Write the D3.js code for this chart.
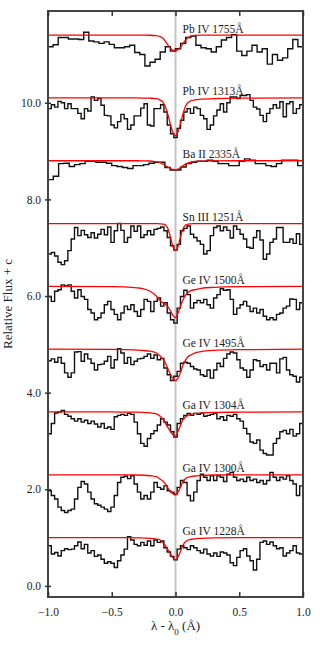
<!DOCTYPE html>
<html>
<head>
<meta charset="utf-8">
<script src="https://cdn.jsdelivr.net/npm/d3@7"></script>
<style>
  body { margin: 0; background: #fff; }
  text { font-family: "Liberation Serif", "DejaVu Serif", serif; fill: #222; }
</style>
</head>
<body>
<div id="chart"></div>
<script>
// line labels, bottom panel first
var lineNames = ["Ga IV 1228Å", "Ga IV 1300Å", "Ga IV 1304Å", "Ge IV 1495Å", "Ge IV 1500Å",
                 "Sn III 1251Å", "Ba II 2335Å", "Pb IV 1313Å", "Pb IV 1755Å"];
// vertical offset c added to each normalised spectrum
var offsets = [0, 1.3, 2.6, 3.9, 5.2, 6.5, 7.8, 9.1, 10.4];

var xTicks = [-1, -0.5, 0, 0.5, 1];
var yTicks = [0, 2, 4, 6, 8, 10];

// observed normalised flux, one value per pixel bin, spanning -1..1 A
var fluxGa1228 = [0.83,0.66,0.69,0.62,0.73,0.77,0.75,0.76,0.83,0.91,0.77,0.86,0.68,0.73,0.61,0.64,0.55,0.47,0.50,0.47,
  0.38,0.52,0.64,0.76,1.02,0.95,0.86,0.83,0.90,0.84,0.93,0.83,0.95,0.90,0.93,0.79,0.70,0.61,0.54,0.76,
  0.83,0.79,0.75,0.83,0.79,0.73,0.68,0.76,0.66,0.62,0.68,0.61,0.70,0.68,0.64,0.48,0.42,0.59,0.73,0.77,
  0.62,0.52,0.33,0.55,0.90,0.93,0.86,0.91,0.83,0.77,0.79,0.62,0.68,0.73,0.83,0.68,0.66];
var fluxGa1300 = [0.67,0.57,0.50,0.33,0.26,0.22,0.26,0.29,0.50,0.74,0.86,0.81,0.64,0.50,0.40,0.37,0.33,0.29,0.24,0.33,
  0.57,0.84,0.95,0.97,0.92,0.98,0.81,0.64,0.50,0.57,0.50,0.64,0.84,0.74,0.70,0.77,0.67,0.64,0.60,0.74,
  0.88,0.84,0.57,0.46,0.64,0.88,1.01,0.95,0.88,0.98,0.88,0.98,0.95,0.86,1.01,1.05,0.95,0.88,0.91,0.86,
  0.95,0.88,0.91,0.84,0.88,0.81,0.88,1.05,0.95,0.88,0.95,0.91,0.98,0.88,0.81,0.57,0.77];
var fluxGa1304 = [0.55,0.76,0.98,1.00,1.03,0.95,0.91,0.86,0.81,0.86,0.79,0.83,0.76,0.81,0.75,0.69,0.76,0.66,0.69,0.64,
  0.90,0.93,0.95,0.93,0.97,0.95,0.79,0.55,0.35,0.29,0.45,0.55,0.61,0.73,0.86,0.79,0.73,0.59,0.48,0.76,
  0.86,0.93,0.97,0.93,0.97,0.95,0.97,0.91,0.93,0.95,0.97,0.86,0.90,0.83,0.93,0.91,0.95,0.86,0.81,0.66,
  0.55,0.38,0.35,0.42,0.21,0.14,0.11,0.11,0.35,0.45,0.59,0.62,0.55,0.64,0.50,0.55,0.76];
var fluxGe1495 = [0.76,0.80,0.73,0.83,0.71,0.51,0.42,0.51,0.94,0.95,0.75,0.90,0.80,0.71,0.57,0.68,0.69,0.75,0.85,0.61,
  0.78,1.01,0.92,0.71,0.83,0.68,0.75,0.80,0.81,0.85,0.90,0.81,0.88,0.78,0.81,0.61,0.47,0.35,0.44,0.54,
  0.71,0.73,0.71,0.64,0.59,0.57,0.47,0.44,0.57,0.40,0.57,0.71,0.64,0.81,0.90,0.94,0.92,0.78,0.61,0.57,
  0.42,0.57,0.78,0.76,0.64,0.68,0.57,0.71,0.71,0.51,0.80,0.83,0.57,0.47,0.44,0.32,0.42];
var fluxGe1500 = [0.79,0.69,0.90,0.93,1.03,1.01,1.03,0.90,0.76,0.93,0.79,0.73,0.52,0.45,0.31,0.35,0.45,0.62,0.69,0.52,
  0.42,0.31,0.45,0.59,0.52,0.62,0.48,0.38,0.52,0.73,0.69,0.48,0.69,0.76,0.59,0.66,0.45,0.31,0.24,0.55,
  0.79,0.92,0.83,0.55,0.66,0.71,0.66,0.73,0.62,0.55,0.76,0.83,0.95,0.92,0.93,0.73,0.42,0.55,0.62,0.69,
  0.59,0.48,0.55,0.45,0.52,0.38,0.31,0.35,0.31,0.42,0.45,0.55,0.59,0.74,0.73,0.52,0.66];
var fluxSn1251 = [0.37,0.40,0.33,0.20,0.15,0.23,0.44,0.68,0.92,0.75,0.86,0.77,0.71,0.81,0.70,0.78,0.88,0.77,0.93,0.61,
  0.85,1.00,0.86,0.61,0.71,0.95,0.84,0.95,0.71,0.77,0.85,0.77,0.88,0.90,0.93,0.85,0.71,0.54,0.45,0.57,
  0.85,0.90,0.95,0.78,0.71,0.64,0.57,0.37,0.44,0.75,0.92,0.95,0.85,0.93,0.86,0.70,0.95,0.88,0.78,0.68,
  0.51,0.49,0.71,0.85,0.66,0.26,0.37,0.61,0.68,0.92,0.92,0.61,0.61,0.68,0.59,0.79,0.57];
var fluxBa2335 = [0.61,0.68,0.94,0.95,0.88,0.92,0.94,0.99,0.99,0.97,0.97,0.95,0.90,0.88,0.86,0.84,0.90,0.90,0.92,0.95,
  0.97,0.97,0.86,0.81,0.81,0.87,0.94,0.97,0.99,0.99,1.01,0.99,0.94,0.94,0.90,0.90,0.99,1.04,1.01,0.94,
  0.94,0.90,0.88,0.94,1.01,1.01,1.01,0.90];
var fluxPb1313 = [0.78,0.86,0.81,0.93,0.90,0.78,0.88,0.78,0.78,0.68,0.57,0.78,0.73,1.02,0.95,0.99,0.85,0.64,0.63,0.44,
  0.38,0.51,0.66,0.57,0.35,0.44,0.63,0.63,0.79,0.88,0.44,0.42,0.78,0.78,0.86,0.71,0.44,0.26,0.18,0.37,
  0.54,0.71,0.78,0.68,0.81,0.78,0.64,0.57,0.35,0.44,0.63,0.75,0.88,0.71,0.90,1.02,1.02,0.99,1.05,1.05,
  1.07,0.95,0.81,0.77,0.64,0.51,0.68,0.78,0.86,0.79,0.92,0.61,0.88,0.92,0.68,0.78,0.86];
var fluxPb1755 = [0.76,0.80,0.95,0.95,0.92,0.92,0.91,1.06,0.88,0.86,0.83,0.86,0.81,0.74,0.74,0.76,0.79,0.64,0.60,0.36,
  0.44,0.50,0.65,0.76,0.67,0.72,0.83,0.95,0.98,0.79,0.74,0.72,0.65,0.76,0.90,0.95,1.01,0.67,0.58,0.67,
  0.79,0.65,0.72,0.40,0.60,0.48,0.53,0.72,0.91,0.76];

// fitted absorption profiles (red), read on a common wavelength grid
var modelX = [-1,-0.5,-0.4,-0.3,-0.25,-0.2,-0.15,-0.12,-0.1,-0.08,-0.06,-0.04,-0.02,0,
              0.02,0.04,0.06,0.08,0.1,0.12,0.15,0.2,0.3,0.5,1];
var modelGa1228 = [1,1,0.998,0.995,0.99,0.985,0.97,0.95,0.9,0.84,0.75,0.66,0.58,0.54,0.6,0.72,0.85,0.92,0.95,0.96,0.975,0.985,0.995,0.998,1];
var modelGa1300 = [1,1,0.998,0.995,0.99,0.98,0.96,0.91,0.87,0.81,0.73,0.66,0.61,0.58,0.64,0.75,0.87,0.92,0.95,0.96,0.975,0.985,0.995,0.998,1];
var modelGa1304 = [1,1,0.998,0.995,0.99,0.98,0.96,0.91,0.86,0.77,0.68,0.6,0.53,0.5,0.6,0.73,0.85,0.9,0.93,0.95,0.97,0.98,0.99,0.995,1];
var modelGe1495 = [1,0.995,0.99,0.98,0.97,0.96,0.92,0.86,0.8,0.72,0.6,0.48,0.39,0.35,0.4,0.53,0.68,0.78,0.85,0.88,0.92,0.95,0.975,0.99,1];
var modelGe1500 = [1,0.995,0.99,0.97,0.95,0.9,0.8,0.7,0.66,0.63,0.58,0.5,0.4,0.35,0.45,0.6,0.73,0.82,0.88,0.91,0.93,0.96,0.98,0.995,1];
var modelSn1251 = [1,1,1,1,1,1,0.998,0.995,0.99,0.975,0.9,0.72,0.52,0.44,0.53,0.73,0.9,0.97,0.99,0.995,0.998,1,1,1,1];
var modelBa2335 = [1,1,1,1,0.998,0.995,0.975,0.96,0.935,0.9,0.87,0.84,0.82,0.81,0.83,0.86,0.9,0.93,0.955,0.97,0.985,0.992,0.997,1,1];
var modelPb1313 = [1,1,1,1,0.998,0.995,0.985,0.955,0.92,0.82,0.66,0.45,0.29,0.22,0.3,0.48,0.68,0.84,0.91,0.94,0.96,0.975,0.988,0.996,1];
var modelPb1755 = [1,1,1,1,1,0.998,0.99,0.97,0.94,0.87,0.8,0.73,0.69,0.68,0.7,0.75,0.83,0.9,0.95,0.98,0.995,1,1,1,1];

var fluxes = [fluxGa1228, fluxGa1300, fluxGa1304, fluxGe1495, fluxGe1500, fluxSn1251, fluxBa2335, fluxPb1313, fluxPb1755];
var models = [modelGa1228, modelGa1300, modelGa1304, modelGe1495, modelGe1500, modelSn1251, modelBa2335, modelPb1313, modelPb1755];

var width = 320, height = 650;
var margin = {top: 11, right: 17, bottom: 53, left: 48};

var svg = d3.select("#chart").append("svg")
  .attr("width", width)
  .attr("height", height);

var xScale = d3.scaleLinear()
  .domain([-1, 1])
  .range([margin.left, width - margin.right]);

var yScale = d3.scaleLinear()
  .domain([-0.23, 11.9])
  .range([height - margin.bottom, margin.top]);

// grey marker at the line centre
svg.append("line")
  .attr("x1", xScale(0)).attr("x2", xScale(0))
  .attr("y1", margin.top).attr("y2", height - margin.bottom)
  .attr("stroke", "#c4c4c4")
  .attr("stroke-width", 2);

var stepLine = d3.line()
  .x(function(d) { return xScale(d[0]); })
  .y(function(d) { return yScale(d[1]); })
  .curve(d3.curveStepAfter);

var modelLine = d3.line()
  .x(function(d) { return xScale(d[0]); })
  .y(function(d) { return yScale(d[1]); })
  .curve(d3.curveMonotoneX);

for (var k = 0; k < fluxes.length; k++) {
  var vals = fluxes[k];
  var n = vals.length;
  // bins are laid out evenly across the window, left edge of each bin
  var pts = vals.map(function(v, i) { return [-1 + 2 * i / n, v + offsets[k]]; });
  pts.push([1, vals[n - 1] + offsets[k]]);

  svg.append("path")
    .datum(pts)
    .attr("d", stepLine)
    .attr("fill", "none")
    .attr("stroke", "#111")
    .attr("stroke-width", 1.4);

  var mpts = models[k].map(function(v, i) { return [modelX[i], v + offsets[k]]; });
  svg.append("path")
    .datum(mpts)
    .attr("d", modelLine)
    .attr("fill", "none")
    .attr("stroke", "#ff0000")
    .attr("stroke-width", 1.3);

  svg.append("text")
    .attr("x", xScale(0) + 7)
    .attr("y", yScale(1 + offsets[k]) - 2.5)
    .attr("font-size", "11.5px")
    .text(lineNames[k]);
}

// frame
svg.append("rect")
  .attr("x", margin.left).attr("y", margin.top)
  .attr("width", width - margin.left - margin.right)
  .attr("height", height - margin.top - margin.bottom)
  .attr("fill", "none")
  .attr("stroke", "#444")
  .attr("stroke-width", 2);

// axes with ticks pointing inward
var xAxis = svg.append("g")
  .attr("transform", "translate(0," + (height - margin.bottom) + ")")
  .call(d3.axisBottom(xScale).tickValues(xTicks).tickSize(-5).tickPadding(11)
    .tickFormat(function(d) { return d3.format(".1f")(d).replace("-", "\u2212"); }));

var xAxisTop = svg.append("g")
  .attr("transform", "translate(0," + margin.top + ")")
  .call(d3.axisTop(xScale).tickValues(xTicks).tickSize(-5).tickFormat(""));

var yAxis = svg.append("g")
  .attr("transform", "translate(" + margin.left + ",0)")
  .call(d3.axisLeft(yScale).tickValues(yTicks).tickSize(3).tickPadding(4)
    .tickFormat(d3.format(".1f")));

// inner half of the y ticks
svg.append("g")
  .attr("transform", "translate(" + margin.left + ",0)")
  .call(d3.axisRight(yScale).tickValues(yTicks).tickSize(3).tickFormat(""));

svg.selectAll(".domain").remove();
svg.selectAll(".tick line").attr("stroke", "#333").attr("stroke-width", 1.5);
svg.selectAll(".tick text")
  .attr("font-family", "Liberation Serif, serif")
  .attr("font-size", "11.5px")
  .attr("fill", "#222");

// axis titles
var xTitle = svg.append("text")
  .attr("x", xScale(0))
  .attr("y", height - 20)
  .attr("text-anchor", "middle")
  .attr("font-size", "13px");
xTitle.append("tspan").text("\u03bb - \u03bb");
xTitle.append("tspan").attr("baseline-shift", "sub").attr("font-size", "9px").text("0");
xTitle.append("tspan").text(" (Å)");

svg.append("text")
  .attr("transform", "translate(12," + ((margin.top + height - margin.bottom) / 2) + ") rotate(-90)")
  .attr("text-anchor", "middle")
  .attr("font-size", "13px")
  .text("Relative Flux + c");
</script>
</body>
</html>
